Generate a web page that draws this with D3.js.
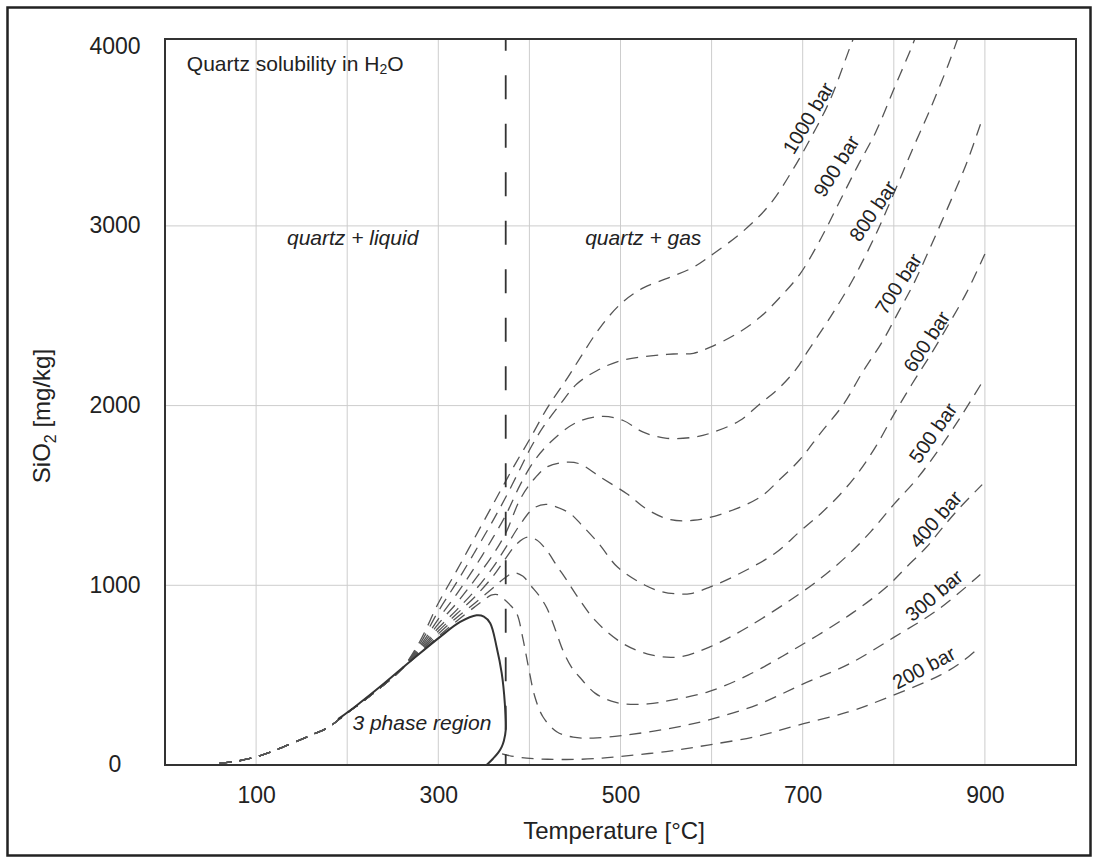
<!DOCTYPE html>
<html>
<head>
<meta charset="utf-8">
<script src="https://cdn.jsdelivr.net/npm/d3@7"></script>
<style>
  body { margin: 0; background: #fff; }
  svg { display: block; font-family: "Liberation Sans", Arial, Helvetica, sans-serif; }
</style>
</head>
<body>
<svg id="chart" width="1098" height="863"></svg>
<script>
// values: [temperature °C, SiO2 mg/kg]
const liquidBase = [[60,10],[80,22],[100,45],[120,80],[140,122],[160,165],[180,212],[200,290],[220,365],[240,445],[260,535]];

const fan1000 = [[280,690],[300,900],[320,1080],[340,1265],[360,1450],[374,1580],[385,1680],[400,1810],[420,1990],[440,2140],[455,2260],[477,2430],[500,2565],[525,2655],[554,2713],[580,2770],[602,2845],[635,2972],[664,3120],[690,3320],[710,3500],[730,3700],[752,3995],[760,4100]];
const fan900 = [[280,675],[300,855],[320,1015],[340,1185],[360,1360],[374,1490],[390,1650],[401,1761],[415,1880],[434,2009],[452,2120],[474,2194],[500,2250],[536,2278],[558,2287],[580,2291],[598,2324],[627,2398],[653,2491],[675,2602],[697,2732],[720,2930],[740,3130],[760,3330],[780,3520],[800,3760],[820,4000],[826,4080]];
const fan800 = [[280,662],[300,812],[320,950],[340,1100],[360,1265],[374,1390],[390,1560],[405,1690],[423,1796],[452,1907],[481,1940],[503,1917],[525,1852],[551,1818],[580,1824],[602,1852],[631,1917],[653,2009],[675,2102],[693,2204],[706,2306],[730,2490],[755,2700],[780,2950],[800,3180],[820,3420],[840,3650],[860,3900],[870,4040]];
const fan700 = [[280,652],[300,785],[320,900],[340,1030],[360,1170],[374,1290],[390,1480],[405,1590],[420,1660],[440,1685],[455,1676],[478,1602],[507,1509],[530,1420],[555,1365],[580,1362],[610,1395],[653,1490],[675,1590],[697,1700],[720,1850],[745,2009],[765,2180],[788,2361],[805,2520],[822,2680],[840,2880],[860,3110],[880,3350],[897,3594]];
const fan600 = [[280,643],[300,762],[320,862],[340,970],[360,1100],[374,1210],[390,1340],[405,1430],[418,1450],[430,1435],[445,1398],[456,1343],[476,1233],[497,1100],[527,1000],[545,965],[562,952],[577,954],[598,990],[627,1056],[669,1176],[697,1300],[720,1400],[740,1500],[760,1620],[780,1770],[800,1950],[820,2120],[840,2280],[860,2450],[880,2630],[900,2844]];
const fan500 = [[280,636],[300,745],[320,840],[340,935],[360,1050],[374,1150],[386,1230],[398,1268],[408,1252],[419,1194],[430,1110],[441,1028],[451,950],[472,806],[502,678],[535,611],[565,602],[598,657],[640,768],[700,965],[725,1060],[750,1170],[775,1300],[800,1450],[825,1590],[850,1760],[875,1950],[897,2130]];
const fan400 = [[280,630],[300,730],[320,820],[340,900],[360,985],[374,1045],[383,1070],[393,1050],[402,995],[411,940],[419,875],[428,760],[437,635],[446,546],[455,490],[472,400],[490,355],[506,339],[530,340],[556,361],[596,407],[640,500],[695,657],[750,830],[792,990],[814,1102],[836,1213],[854,1324],[873,1435],[897,1560]];
const fan300 = [[280,625],[300,715],[320,800],[340,880],[350,918],[358,945],[365,948],[371,928],[378,895],[386,844],[393,700],[399,544],[406,380],[415,267],[430,185],[448,155],[470,150],[506,167],[550,200],[596,250],[650,335],[700,450],[750,560],[800,710],[850,870],[895,1060]];
const liquid200 = [[60,10],[80,22],[100,45],[120,80],[140,122],[160,165],[180,212],[190,250]];
const vapor200 = [[370,62],[380,50],[397,38],[420,32],[451,31],[480,38],[500,48],[550,75],[596,111],[650,160],[695,222],[750,295],[795,379],[851,500],[875,575],[895,660]];

const threePhase = [[190,255],[210,330],[236,435],[270,580],[302,713],[324,796],[342,833],[350,826],[357,789],[364,657],[369.6,511],[373,344],[374,194],[372,135],[369.6,101],[366,70],[360,35],[353,0]];
const criticalT = 374;

const barNames = ['1000 bar','900 bar','800 bar','700 bar','600 bar','500 bar','400 bar','300 bar','200 bar'];
// label anchor in data units and tilt
const barLabelAt = [[706,3600,-59],[737,3333,-58],[777,3083,-56],[805,2678,-57],[836,2357,-57],[843,1848,-55],[846,1367,-49],[844,944,-40],[833,542,-28]];

const xTicks = [100,300,500,700,900];
const yTicks = [0,1000,2000,3000,4000];
const xGrid = [100,200,300,400,500,600,700,800,900];
const yGrid = [1000,2000,3000];

const svg = d3.select('#chart');
const plotL = 165, plotR = 1076, plotT = 39, plotB = 765;

const x = d3.scaleLinear().domain([0, 1000]).range([plotL, plotR]);
const y = d3.scaleLinear().domain([0, 4040]).range([plotB, plotT]);

// outer frame
svg.append('rect')
  .attr('x', 7.5).attr('y', 7.5).attr('width', 1083).attr('height', 848)
  .attr('fill', 'none').attr('stroke', '#222').attr('stroke-width', 2.5);

svg.append('defs').append('clipPath').attr('id', 'plotclip')
  .append('rect').attr('x', plotL).attr('y', plotT).attr('width', plotR - plotL).attr('height', plotB - plotT);

// grid
svg.append('g').selectAll('line').data(xGrid).join('line')
  .attr('x1', d => x(d)).attr('x2', d => x(d)).attr('y1', plotT).attr('y2', plotB)
  .attr('stroke', '#cdcdcd').attr('stroke-width', 1);
svg.append('g').selectAll('line').data(yGrid).join('line')
  .attr('y1', d => y(d)).attr('y2', d => y(d)).attr('x1', plotL).attr('x2', plotR)
  .attr('stroke', '#cdcdcd').attr('stroke-width', 1);

// axes (labels only, frame drawn separately)
const xAxis = svg.append('g')
  .attr('transform', `translate(0,${plotB})`)
  .call(d3.axisBottom(x).tickValues(xTicks).tickFormat(d3.format('d')).tickSize(0).tickPadding(22));
xAxis.select('.domain').remove();
xAxis.selectAll('text').attr('font-size', 23).attr('fill', '#222');
xAxis.attr('font-family', null).attr('font-size', null);

const yAxis = svg.append('g')
  .attr('transform', `translate(${plotL},0)`)
  .call(d3.axisLeft(y).tickValues(yTicks).tickFormat(d3.format('d')).tickSize(0));
yAxis.select('.domain').remove();
yAxis.selectAll('text')
  .attr('text-anchor', 'middle').attr('x', -50).attr('dy', '0.3em')
  .attr('font-size', 23).attr('fill', '#222');
yAxis.attr('font-family', null).attr('font-size', null);

// curves
const line = d3.line().x(d => x(d[0])).y(d => y(d[1])).curve(d3.curveCatmullRom.alpha(0.5));
const isobars = [fan1000, fan900, fan800, fan700, fan600, fan500, fan400, fan300].map(f => liquidBase.concat(f));
isobars.push(liquid200, vapor200);

const plot = svg.append('g').attr('clip-path', 'url(#plotclip)');
plot.selectAll('path.iso').data(isobars).join('path')
  .attr('class', 'iso')
  .attr('d', line)
  .attr('fill', 'none').attr('stroke', '#555').attr('stroke-width', 1.3)
  .attr('stroke-dasharray', '12,8');

plot.append('path')
  .attr('d', line(threePhase))
  .attr('fill', 'none').attr('stroke', '#333').attr('stroke-width', 2);

plot.append('line')
  .attr('x1', x(criticalT)).attr('x2', x(criticalT))
  .attr('y1', y(4040)).attr('y2', y(0))
  .attr('stroke', '#333').attr('stroke-width', 1.8)
  .attr('stroke-dasharray', '24,24.5').attr('stroke-dashoffset', 12.3);

// plot frame
svg.append('rect')
  .attr('x', plotL).attr('y', plotT).attr('width', plotR - plotL).attr('height', plotB - plotT)
  .attr('fill', 'none').attr('stroke', '#333').attr('stroke-width', 2);

// isobar labels
svg.append('g').selectAll('text').data(barNames).join('text')
  .attr('transform', (d, i) => `translate(${x(barLabelAt[i][0])},${y(barLabelAt[i][1])}) rotate(${barLabelAt[i][2]})`)
  .attr('text-anchor', 'middle').attr('dominant-baseline', 'central')
  .attr('font-size', 20).attr('fill', '#222')
  .text(d => d);

// titles and annotations
const title = svg.append('text').attr('x', x(24)).attr('y', y(3906))
  .attr('dominant-baseline', 'central').attr('font-size', 21).attr('fill', '#222');
title.append('tspan').text('Quartz solubility in H');
title.append('tspan').attr('font-size', 14).attr('dy', 6).text('2');
title.append('tspan').attr('dy', -6).text('O');

svg.append('text').attr('x', x(206)).attr('y', y(2933))
  .attr('text-anchor', 'middle').attr('dominant-baseline', 'central')
  .attr('font-size', 21).attr('font-style', 'italic').attr('fill', '#222')
  .text('quartz + liquid');
svg.append('text').attr('x', x(525)).attr('y', y(2933))
  .attr('text-anchor', 'middle').attr('dominant-baseline', 'central')
  .attr('font-size', 21).attr('font-style', 'italic').attr('fill', '#222')
  .text('quartz + gas');
svg.append('text').attr('x', x(282)).attr('y', y(239))
  .attr('text-anchor', 'middle').attr('dominant-baseline', 'central')
  .attr('font-size', 21).attr('font-style', 'italic').attr('fill', '#222')
  .text('3 phase region');

svg.append('text').attr('x', 614).attr('y', 839)
  .attr('text-anchor', 'middle').attr('font-size', 24).attr('fill', '#222')
  .text('Temperature [°C]');

const yTitle = svg.append('text')
  .attr('transform', 'translate(50,416) rotate(-90)')
  .attr('text-anchor', 'middle').attr('font-size', 24).attr('fill', '#222');
yTitle.append('tspan').text('SiO');
yTitle.append('tspan').attr('font-size', 16).attr('dy', 6).text('2');
yTitle.append('tspan').attr('dy', -6).text(' [mg/kg]');
</script>
</body>
</html>
